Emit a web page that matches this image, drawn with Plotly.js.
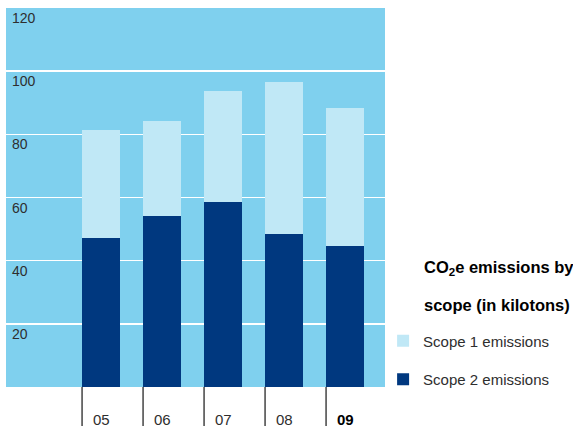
<!DOCTYPE html>
<html>
<head>
<meta charset="utf-8">
<script src="https://cdn.plot.ly/plotly-3.0.1.min.js"></script>
<style>
  html, body { margin: 0; padding: 0; background: #ffffff; }
  #chart { width: 573px; height: 427px; }
</style>
</head>
<body>
<div id="chart"></div>
<script>
// CO2e emissions by scope, kilotons, years 2005-2009
const years = ['05', '06', '07', '08', '09'];
const scope2 = [47.3, 54.0, 58.7, 48.3, 44.8];
const scope1 = [34.2, 30.1, 34.9, 48.4, 43.4];
const yTicks = [20, 40, 60, 80, 100, 120];

const FONT = 'Liberation Sans, Arial, sans-serif';
const BG = '#7fd0ee';
const LIGHT = '#c0e8f6';
const DARK = '#00387f';
const TEXT = '#2e2e2e';
const BAR_WIDTH = 0.62;

const idx = years.map((_, i) => i);

const traces = [
  {
    type: 'bar', name: 'Scope 2 emissions', x: idx, y: scope2,
    width: BAR_WIDTH, marker: { color: DARK, line: { width: 0 } },
    legendgroup: 'g2', legendrank: 2, hoverinfo: 'skip'
  },
  {
    type: 'bar', name: 'Scope 1 emissions', x: idx, y: scope1,
    width: BAR_WIDTH, marker: { color: LIGHT, line: { width: 0 } },
    legendgroup: 'g1', legendrank: 1, hoverinfo: 'skip'
  }
];

const annotations = [];
// y-axis labels sit inside the plot, just under each gridline
yTicks.forEach(v => {
  annotations.push({
    xref: 'paper', yref: 'y', x: 0.011, y: v, xanchor: 'left', yanchor: 'middle',
    yshift: -10, showarrow: false, text: String(v),
    font: { family: FONT, size: 14, color: TEXT }
  });
});
// year labels to the right of each tick line; the latest year in bold
years.forEach((yr, i) => {
  const last = i === years.length - 1;
  annotations.push({
    xref: 'x', yref: 'paper', x: i - BAR_WIDTH / 2, y: 0, xanchor: 'left', yanchor: 'middle',
    xshift: 9, yshift: -32, showarrow: false,
    text: last ? '<b>' + yr + '</b>' : yr,
    font: { family: FONT, size: 15, color: last ? '#000000' : TEXT }
  });
});
// legend heading
annotations.push({
  xref: 'paper', yref: 'paper', x: 1.0976, y: (386 - 267) / 379, xanchor: 'left', yanchor: 'middle',
  showarrow: false, text: '<b>CO<sub>2</sub>e emissions by</b>',
  font: { family: FONT, size: 16.5, color: '#000000' }
});
annotations.push({
  xref: 'paper', yref: 'paper', x: 1.0976, y: (386 - 304) / 379, xanchor: 'left', yanchor: 'middle',
  showarrow: false, text: '<b>scope (in kilotons)</b>',
  font: { family: FONT, size: 16.5, color: '#000000' }
});

// tick lines hanging below the plot at each bar's left edge
const shapes = idx.map(i => ({
  type: 'line', xref: 'x', yref: 'paper',
  x0: i - BAR_WIDTH / 2, x1: i - BAR_WIDTH / 2, y0: 0, y1: -0.103,
  line: { color: '#444444', width: 1.5 }
}));

const layout = {
  width: 573, height: 427,
  margin: { l: 6, r: 188, t: 8, b: 40, pad: 0 },
  paper_bgcolor: '#ffffff',
  plot_bgcolor: BG,
  barmode: 'stack',
  font: { family: FONT, size: 14, color: TEXT },
  xaxis: {
    range: [-1.557, 4.656], showgrid: false, zeroline: false,
    showticklabels: false, ticks: '', showline: false, fixedrange: true
  },
  yaxis: {
    range: [0, 120], tickvals: [20, 40, 60, 80, 100],
    showgrid: true, gridcolor: '#ffffff', gridwidth: 1.5,
    zeroline: false, showticklabels: false, ticks: '', showline: false, fixedrange: true
  },
  showlegend: true,
  legend: {
    x: 0.995, xanchor: 'left', y: 0.165, yanchor: 'top',
    traceorder: 'grouped', tracegroupgap: 16,
    bgcolor: 'rgba(0,0,0,0)', borderwidth: 0,
    font: { family: FONT, size: 15, color: TEXT }
  },
  annotations: annotations,
  shapes: shapes
};

Plotly.newPlot('chart', traces, layout, { displayModeBar: false, staticPlot: true });
</script>
</body>
</html>
